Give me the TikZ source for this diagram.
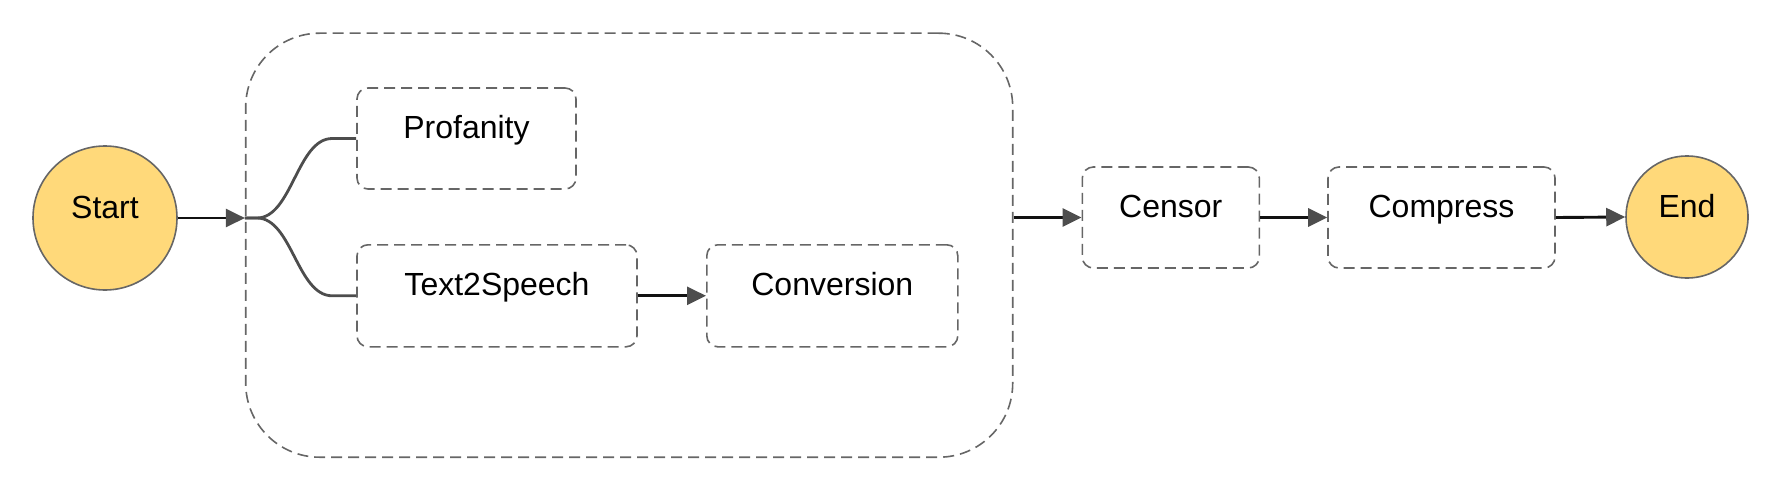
\documentclass[tikz,border=0pt]{standalone}
\usepackage{fontspec}
\setmainfont{Liberation Sans}
\usetikzlibrary{arrows.meta}
\definecolor{yel}{HTML}{FFD97A}
\definecolor{bord}{HTML}{666666}
\definecolor{linec}{HTML}{111111}
\definecolor{headc}{HTML}{4D4D4D}
\begin{document}
\begin{tikzpicture}[x=1pt,y=-1pt,
  every node/.style={font=\fontsize{32}{38}\selectfont, text height=20pt, text depth=20pt, inner sep=0pt},
  term/.style={circle, draw=bord, line width=1.6pt, fill=yel},
  stepbox/.style={rectangle, rounded corners=11pt, draw=bord, line width=1.6pt, dash pattern=on 11pt off 6pt},
  conn/.style={draw=linec, line width=2.9pt, -{Triangle[length=19pt,width=18pt,color=headc]}},
  branch/.style={draw=headc, line width=2.8pt}]
\useasboundingbox (0,0) rectangle (1784,495);
\node[stepbox, rounded corners=74pt, minimum width=767pt, minimum height=424pt] (grp) at (629.2,245.2) {};
\node[term, minimum size=144pt] (start) at (105,218) {Start};
\node[term, minimum size=122pt] (end) at (1687,217) {End};
\node[stepbox, minimum width=219pt, minimum height=101pt] (prof) at (466.5,138.5) {Profanity};
\node[stepbox, minimum width=280pt, minimum height=102pt] (tts) at (497,295.8) {Text2Speech};
\node[stepbox, minimum width=251pt, minimum height=102pt] (conv) at (832.3,295.8) {Conversion};
\node[stepbox, minimum width=177pt, minimum height=101pt] (censor) at (1170.8,217.5) {Censor};
\node[stepbox, minimum width=227pt, minimum height=101pt] (compress) at (1441.5,217.5) {Compress};
\coordinate (split) at (start.east -| grp.west);
\draw[branch] (split) -- ++(12,0) .. controls +(35,0) and +(-35,0) .. ([xshift=-24pt]prof.west) -- (prof.west);
\draw[branch] (split) -- ++(12,0) .. controls +(35,0) and +(-35,0) .. ([xshift=-24pt]tts.west) -- (tts.west);
\draw[conn] (start.east) -- (split);
\draw[conn] (tts.east) -- (conv.west);
\draw[conn] (grp.east |- censor.west) -- (censor.west);
\draw[conn] (censor.east) -- (compress.west);
\draw[conn] (compress.east) -- (end.west);
\end{tikzpicture}
\end{document}
